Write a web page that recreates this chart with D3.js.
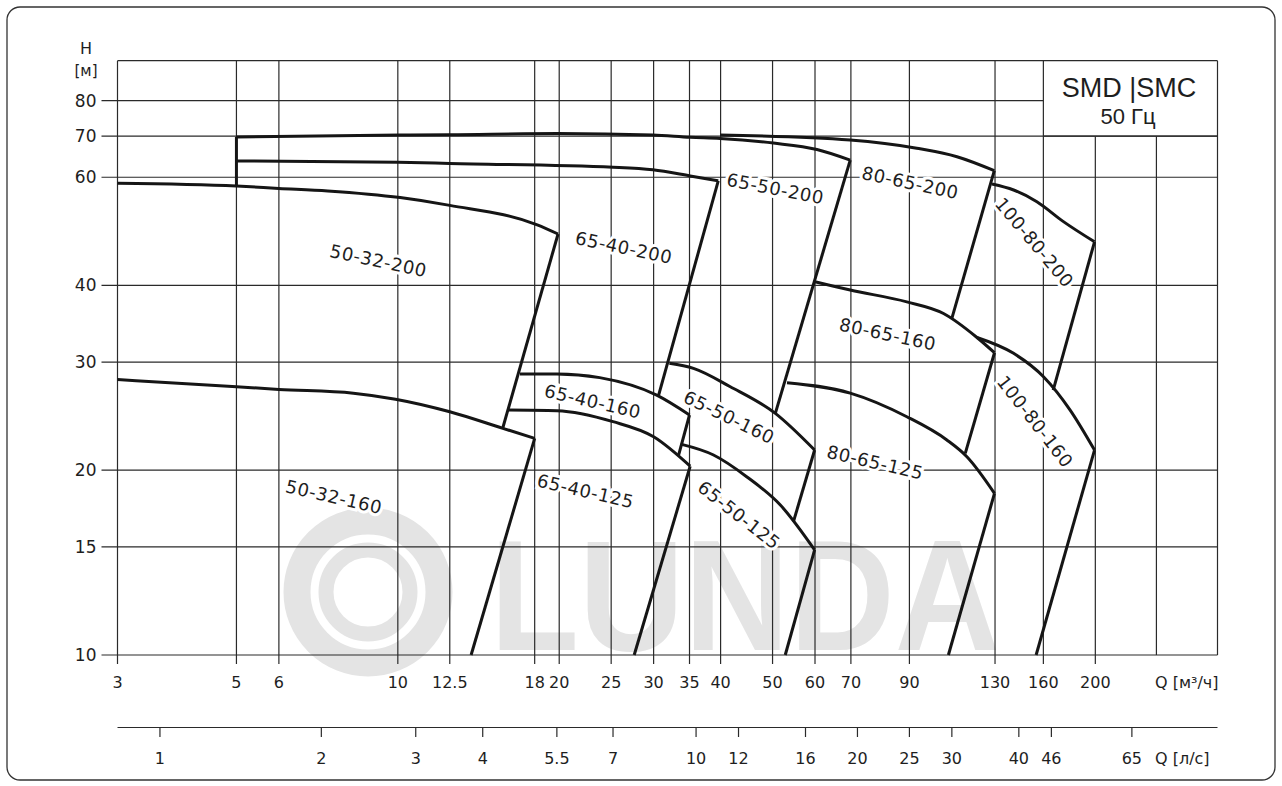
<!DOCTYPE html>
<html>
<head>
<meta charset="utf-8">
<script src="https://cdn.jsdelivr.net/npm/d3@7"></script>
<style>
body { margin: 0; background: #fff; }
svg text { font-family: "DejaVu Sans", sans-serif; fill: #1e1e1e; }
</style>
</head>
<body>
<svg id="chart" width="1282" height="786"></svg>
<script>
// grid / tick values
const qGrid = [3, 5, 6, 10, 12.5, 18, 20, 25, 30, 35, 40, 50, 60, 70, 90, 130, 160, 200, 260];
const qLabels = [3, 5, 6, 10, 12.5, 18, 20, 25, 30, 35, 40, 50, 60, 70, 90, 130, 160, 200];
const hGrid = [10, 15, 20, 30, 40, 60, 70, 80];
const lpsTicks = [1, 2, 3, 4, 5.5, 7, 10, 12, 16, 20, 25, 30, 40, 46, 65];

// pump curves, [Q m3/h, H m] read from the sheet
const top_50_32_200 = [[3, 58.65], [5, 58.05], [6, 57.55], [7.4, 57.0], [10.1, 55.6], [12.5, 54.0], [18.2, 50.2], [19.9, 48.5]];
const top_65_50_200 = [[5, 69.8], [10.1, 70.3], [12.5, 70.4], [19.9, 70.7], [29.9, 70.3], [35.1, 69.7], [39.9, 69.4], [50.2, 68.2], [60.5, 66.6], [69.8, 64.0]];
const top_65_40_200 = [[5, 63.8], [10, 63.5], [12.5, 63.2], [25.2, 62.3], [29.9, 61.7], [35.1, 60.3], [39.6, 59.2]];
const top_80_65_200 = [[39.9, 70.3], [69.8, 69.0], [92.9, 66.9], [110.4, 64.8], [129.6, 61.5]];
const top_100_80_200 = [[128.3, 58.5], [140.8, 57.2], [155.6, 54.75], [174.4, 50.8], [199.3, 47.1]];
const top_50_32_160 = [[3, 28.1], [5, 27.35], [6, 27.08], [8.26, 26.7], [9.9, 26.1], [12.5, 24.9], [15.7, 23.4], [18.0, 22.54]];
const top_65_40_160 = [[16.9, 28.7], [19.8, 28.7], [23.8, 28.3], [30.4, 26.5], [35.0, 24.6]];
const top_65_40_125 = [[16.1, 25.06], [19.8, 25.0], [25.2, 23.99], [30.0, 22.67], [35.1, 20.3]];
const top_65_50_160 = [[32.1, 29.87], [35.6, 29.3], [41.7, 27.35], [50.6, 24.75], [59.9, 21.57]];
const top_80_65_160 = [[60.0, 40.55], [69.8, 39.3], [89.0, 37.6], [104.2, 36.0], [120.3, 32.9], [129.7, 31.07]];
const top_100_80_160 = [[120.3, 32.9], [140.8, 31.0], [160.1, 28.4], [179.5, 25.06], [199.3, 21.57]];
const top_80_65_125 = [[53.2, 27.77], [69.8, 26.7], [89.0, 24.44], [105.7, 22.4], [115.2, 21.04], [129.7, 18.34]];
const top_65_50_125 = [[33.7, 22.05], [38.8, 21.17], [44.8, 19.5], [51.7, 17.55], [59.9, 14.83]];

// straight limits of each field
const side_65_50_200_left = [[5, 69.8], [5, 58.05]];
const side_50_32_200 = [[19.9, 48.5], [15.7, 23.45]];
const side_65_40_200 = [[39.6, 59.2], [30.6, 26.35]];
const side_65_50_200 = [[69.8, 64.0], [50.6, 24.75]];
const side_80_65_200 = [[129.6, 61.5], [108, 35.35]];
const side_100_80_200 = [[199.3, 47.1], [166.9, 27.0]];
const side_50_32_160 = [[18.0, 22.54], [13.7, 10]];
const side_65_40_160 = [[35.0, 24.6], [33.4, 21.17]];
const side_65_40_125 = [[35.1, 20.3], [27.6, 10]];
const side_65_50_160 = [[59.9, 21.57], [54.7, 16.49]];
const side_65_50_125 = [[59.9, 14.83], [52.8, 10]];
const side_80_65_160 = [[129.7, 31.07], [114.4, 21.3]];
const side_80_65_125 = [[129.7, 18.34], [106.4, 10]];
const side_100_80_160 = [[199.3, 21.57], [155.1, 10]];

// pump names with label anchor [Q, H] and tilt
const pumpNames = ['50-32-200', '65-40-200', '65-50-200', '80-65-200', '100-80-200',
    '80-65-160', '100-80-160', '80-65-125', '65-40-160', '65-40-125',
    '65-50-160', '65-50-125', '50-32-160'];
const labelQ = [9.2, 26.4, 50.6, 90.3, 154, 82, 154.5, 77.7, 23.1, 22.4, 41.5, 43.3, 7.6];
const labelH = [43.9, 46.1, 57.5, 58.8, 47, 33.3, 24.0, 20.6, 25.9, 18.5, 24.4, 16.9, 18.1];
const labelTilt = [12, 12, 11, 12, 50, 12, 52, 13, 13, 13, 26, 38, 13];

const topCurves = [top_50_32_200, top_65_50_200, top_65_40_200, top_80_65_200, top_100_80_200,
    top_50_32_160, top_65_40_160, top_65_40_125, top_65_50_160, top_80_65_160,
    top_100_80_160, top_80_65_125, top_65_50_125];
const sideLines = [side_65_50_200_left, side_50_32_200, side_65_40_200, side_65_50_200,
    side_80_65_200, side_100_80_200, side_50_32_160, side_65_40_160, side_65_40_125,
    side_65_50_160, side_65_50_125, side_80_65_160, side_80_65_125, side_100_80_160];

const svg = d3.select('#chart');
const x = d3.scaleLog().domain([3, 338]).range([117.5, 1217.5]);
const y = d3.scaleLog().domain([10, 92.9]).range([655, 60.7]);
const x0 = x.range()[0], x1 = x.range()[1];
const yTop = y.range()[1], yBot = y.range()[0];
const gridColor = '#2a2a2a';

// outer frame
svg.append('rect')
    .attr('x', 7).attr('y', 7)
    .attr('width', 1268).attr('height', 773)
    .attr('rx', 13)
    .attr('fill', 'none')
    .attr('stroke', '#333')
    .attr('stroke-width', 1.3);

// watermark
const wm = svg.append('g').attr('fill', 'none').attr('stroke', '#e4e4e4');
wm.append('circle').attr('cx', 368).attr('cy', 592).attr('r', 71).attr('stroke-width', 27);
wm.append('circle').attr('cx', 368).attr('cy', 592).attr('r', 42).attr('stroke-width', 15);
svg.append('text')
    .attr('x', 490).attr('y', 650)
    .attr('textLength', 510)
    .attr('lengthAdjust', 'spacingAndGlyphs')
    .style('font-family', '"Liberation Sans", Arial, sans-serif')
    .style('font-weight', 'bold')
    .style('font-size', '158px')
    .style('fill', '#e4e4e4')
    .text('LUNDA');

// grid
const grid = svg.append('g').attr('stroke', gridColor).attr('stroke-width', 1.2);
grid.selectAll('line.v')
    .data(qGrid)
    .join('line')
    .attr('class', 'v')
    .attr('x1', d => x(d)).attr('x2', d => x(d))
    .attr('y1', d => d > 160 ? y(70) : yTop)
    .attr('y2', d => d === 260 ? yBot : yBot + 9);
grid.selectAll('line.h')
    .data(hGrid)
    .join('line')
    .attr('class', 'h')
    .attr('x1', x0 - 16)
    .attr('x2', d => d === 80 ? x(160) : x1)
    .attr('y1', d => y(d)).attr('y2', d => y(d));
grid.append('line')
    .attr('x1', x0).attr('x2', x1).attr('y1', yTop).attr('y2', yTop);
grid.append('line')
    .attr('x1', x1).attr('x2', x1).attr('y1', yTop).attr('y2', yBot);

// axis labels
svg.append('g').selectAll('text')
    .data(hGrid)
    .join('text')
    .attr('x', x0 - 21)
    .attr('y', d => y(d))
    .attr('dy', '0.36em')
    .attr('text-anchor', 'end')
    .style('font-size', '17px')
    .text(d => d);
svg.append('text').attr('x', 86).attr('y', 48).attr('dy', '0.36em')
    .attr('text-anchor', 'middle').style('font-size', '16px').text('H');
svg.append('text').attr('x', 86).attr('y', 71).attr('dy', '0.36em')
    .attr('text-anchor', 'middle').style('font-size', '15px').text('[м]');

svg.append('g').selectAll('text')
    .data(qLabels)
    .join('text')
    .attr('x', d => x(d))
    .attr('y', 682)
    .attr('dy', '0.36em')
    .attr('text-anchor', 'middle')
    .style('font-size', '16px')
    .text(d => d);
svg.append('text').attr('x', 1155).attr('y', 682).attr('dy', '0.36em')
    .style('font-size', '16px')
    .text('Q [м³/ч]');

// second flow scale in l/s
const lps = svg.append('g');
lps.append('line')
    .attr('x1', x0).attr('x2', x1)
    .attr('y1', 727.5).attr('y2', 727.5)
    .attr('stroke', gridColor).attr('stroke-width', 1.2);
lps.selectAll('line.t')
    .data(lpsTicks)
    .join('line')
    .attr('class', 't')
    .attr('x1', d => x(d * 3.6)).attr('x2', d => x(d * 3.6))
    .attr('y1', 727.5).attr('y2', 737)
    .attr('stroke', gridColor).attr('stroke-width', 1.2);
lps.selectAll('text')
    .data(lpsTicks)
    .join('text')
    .attr('x', d => x(d * 3.6))
    .attr('y', 758)
    .attr('dy', '0.36em')
    .attr('text-anchor', 'middle')
    .style('font-size', '16px')
    .text(d => d);
svg.append('text').attr('x', 1155).attr('y', 758).attr('dy', '0.36em')
    .style('font-size', '16px')
    .text('Q [л/с]');

// type box
svg.append('line')
    .attr('x1', x(160)).attr('x2', x1).attr('y1', y(70)).attr('y2', y(70))
    .attr('stroke', gridColor).attr('stroke-width', 1.2);
svg.append('text')
    .attr('x', 1129).attr('y', 87).attr('dy', '0.36em')
    .attr('text-anchor', 'middle')
    .style('font-family', '"Liberation Sans", Arial, sans-serif')
    .style('font-size', '27px')
    .text('SMD |SMC');
svg.append('text')
    .attr('x', 1128).attr('y', 116).attr('dy', '0.36em')
    .attr('text-anchor', 'middle')
    .style('font-family', '"Liberation Sans", Arial, sans-serif')
    .style('font-size', '22px')
    .text('50 Гц');

// pump names
svg.append('g').selectAll('text')
    .data(pumpNames)
    .join('text')
    .attr('transform', (d, i) => `translate(${x(labelQ[i])},${y(labelH[i])}) rotate(${labelTilt[i]})`)
    .attr('dy', '0.36em')
    .attr('text-anchor', 'middle')
    .style('font-size', '18px')
    .style('letter-spacing', '0.6px')
    .style('stroke', '#fff')
    .style('stroke-width', 6)
    .style('paint-order', 'stroke')
    .text(d => d);

// curves
const smooth = d3.line().x(d => x(d[0])).y(d => y(d[1])).curve(d3.curveMonotoneX);
const straight = d3.line().x(d => x(d[0])).y(d => y(d[1]));
const curves = svg.append('g')
    .attr('fill', 'none')
    .attr('stroke', '#151515')
    .attr('stroke-width', 3)
    .attr('stroke-linejoin', 'round');
curves.selectAll('path.top')
    .data(topCurves)
    .join('path')
    .attr('class', 'top')
    .attr('d', smooth);
curves.selectAll('path.side')
    .data(sideLines)
    .join('path')
    .attr('class', 'side')
    .attr('d', straight);
</script>
</body>
</html>
